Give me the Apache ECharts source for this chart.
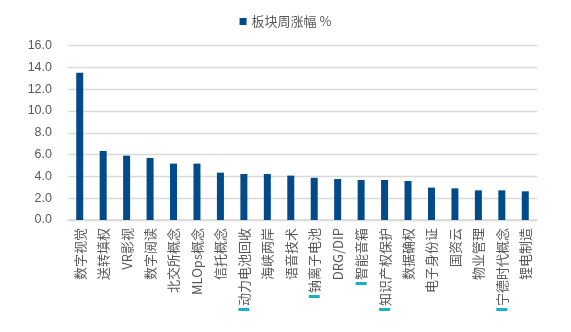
<!DOCTYPE html>
<html>
<head>
<meta charset="utf-8">
<script src="https://cdn.jsdelivr.net/npm/echarts@6/dist/echarts.min.js"></script>
<style>
  html, body { margin: 0; padding: 0; background: #fff; }
  #chart { width: 571px; height: 332px; }
</style>
</head>
<body>
<div id="chart"></div>
<script>
// Weekly change of concept sectors (%)
const categories = [
  '数字视觉', '送转填权', 'VR影视', '数字阅读', '北交所概念', 'MLOps概念', '信托概念',
  '动力电池回收', '海峡两岸', '语音技术', '钠离子电池', 'DRG/DIP', '智能音箱',
  '知识产权保护', '数据确权', '电子身份证', '国资云', '物业管理', '宁德时代概念', '锂电制造'
];
const weeklyChange = [
  13.5, 6.33, 5.9, 5.69, 5.17, 5.17, 4.34, 4.22, 4.22, 4.07,
  3.87, 3.76, 3.67, 3.67, 3.58, 2.97, 2.9, 2.72, 2.72, 2.63
];
// Categories that carry a small cyan tag next to their label
const taggedCategories = ['动力电池回收', '钠离子电池', '智能音箱', '知识产权保护', '宁德时代概念'];
const seriesName = '板块周涨幅 %';

const textColor = '#595959';
const chart = echarts.init(document.getElementById('chart'));
chart.setOption({
  animation: false,
  legend: {
    data: [seriesName],
    top: 10,
    left: 'center',
    icon: 'rect',
    itemWidth: 7,
    itemHeight: 7,
    itemGap: 4,
    textStyle: { color: textColor, fontSize: 13, fontFamily: 'Noto Sans CJK SC' }
  },
  grid: { left: 68, right: 34, top: 45.5, bottom: 112 },
  xAxis: {
    type: 'category',
    data: categories,
    axisLine: { lineStyle: { color: '#d9d9d9', width: 1.5 } },
    axisTick: { show: false },
    axisLabel: {
      rotate: 90,
      interval: 0,
      margin: 8,
      color: textColor,
      fontSize: 13,
      fontFamily: 'Noto Sans CJK SC',
      formatter: function (name) {
        return taggedCategories.indexOf(name) >= 0 ? '{m| }{g| }' + name : name;
      },
      rich: {
        m: { backgroundColor: '#1ab0c8', width: 3, height: 11 },
        g: { width: 2 }
      }
    }
  },
  yAxis: {
    type: 'value',
    min: 0,
    max: 16,
    interval: 2,
    axisLine: { show: false },
    axisTick: { show: false },
    splitLine: { lineStyle: { color: '#d9d9d9', width: 1.3 } },
    axisLabel: {
      color: textColor,
      fontSize: 12.5,
      margin: 16,
      fontFamily: 'Liberation Sans',
      formatter: function (v) { return v.toFixed(1); }
    }
  },
  series: [{
    name: seriesName,
    type: 'bar',
    data: weeklyChange,
    barWidth: 7,
    itemStyle: { color: '#024a88' }
  }]
});
</script>
</body>
</html>
